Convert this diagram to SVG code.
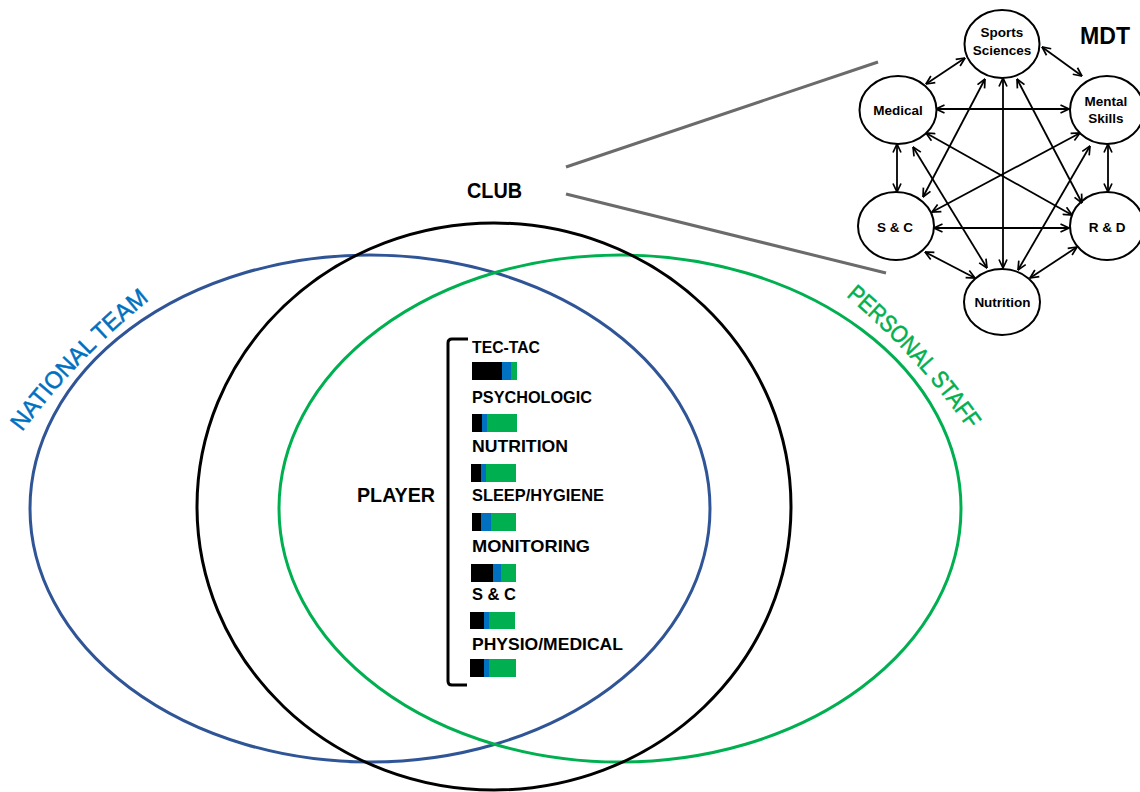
<svg xmlns="http://www.w3.org/2000/svg" width="1140" height="792" viewBox="0 0 1140 792">
<style>
.lbl{font-family:"Liberation Sans",Arial,sans-serif;font-weight:bold;fill:#000}
.node ellipse{fill:#fff;stroke:#000;stroke-width:2}
.node text{font-family:"Liberation Sans",Arial,sans-serif;font-weight:bold;font-size:13.5px;fill:#000;text-anchor:middle}
.conn line{stroke:#000;stroke-width:1.8;marker-start:url(#ah);marker-end:url(#ah)}
.bk{fill:#000}.bl{fill:#0070C0}.gr{fill:#00B050}
.item{font-family:"Liberation Sans",Arial,sans-serif;font-weight:bold;font-size:16.5px;fill:#000}
.arc{font-family:"Liberation Sans",Arial,sans-serif;font-size:24px;stroke-width:0.5px}
</style>
<defs>
<marker id="ah" viewBox="0 0 10 10" refX="9.5" refY="5" markerWidth="10" markerHeight="10" markerUnits="userSpaceOnUse" orient="auto-start-reverse">
<path d="M1,1 L9.5,5 L1,9" fill="none" stroke="#000" stroke-width="1.7"/>
</marker>
<path id="ntPath" d="M 22 432 Q 78.4 356.6 152 298"/>
<path id="psPath" d="M 846 296 Q 917 356 970 432"/>
</defs>
<rect width="1140" height="792" fill="#fff"/>

<g id="national-team">
<ellipse cx="370" cy="508.5" rx="340" ry="253.5" fill="none" stroke="#2F5597" stroke-width="3"/>
<text class="arc" fill="#0070C0" stroke="#0070C0"><textPath href="#ntPath" textLength="184" lengthAdjust="spacingAndGlyphs">NATIONAL TEAM</textPath></text>
</g>
<g id="personal-staff">
<ellipse cx="620" cy="508.5" rx="341" ry="253.5" fill="none" stroke="#00B050" stroke-width="3"/>
<text class="arc" fill="#00B050" stroke="#00B050"><textPath href="#psPath" textLength="182" lengthAdjust="spacingAndGlyphs">PERSONAL STAFF</textPath></text>
</g>
<g id="club">
<ellipse cx="494" cy="506.5" rx="297" ry="283.5" fill="none" stroke="#000" stroke-width="3"/>
<text class="lbl" x="494.5" y="198" font-size="22" text-anchor="middle" textLength="55" lengthAdjust="spacingAndGlyphs">CLUB</text>
</g>
<g id="zoom-lines" stroke="#6b6b6b" stroke-width="3">
<line x1="566" y1="167" x2="878" y2="62"/>
<line x1="566" y1="194" x2="886" y2="273"/>
</g>

<g id="player">
<text class="lbl" x="435" y="502" font-size="20" text-anchor="end" textLength="78" lengthAdjust="spacingAndGlyphs">PLAYER</text>
<path d="M 468 339 L 452 339 Q 448 339 448 343 L 448 681 Q 448 685 452 685 L 467 685" fill="none" stroke="#000" stroke-width="3"/>
</g>

<g id="items">
<text class="item" x="472" y="353" textLength="68" lengthAdjust="spacingAndGlyphs">TEC-TAC</text>
<rect class="bk" x="472" y="362" width="30" height="18"/><rect class="bl" x="502" y="362" width="9" height="18"/><rect class="gr" x="511" y="362" width="6" height="18"/>
<text class="item" x="472" y="403" textLength="120" lengthAdjust="spacingAndGlyphs">PSYCHOLOGIC</text>
<rect class="bk" x="472" y="414" width="10" height="18"/><rect class="bl" x="482" y="414" width="5" height="18"/><rect class="gr" x="487" y="414" width="30" height="18"/>
<text class="item" x="472" y="452" textLength="96" lengthAdjust="spacingAndGlyphs">NUTRITION</text>
<rect class="bk" x="471" y="464" width="10" height="18"/><rect class="bl" x="481" y="464" width="5" height="18"/><rect class="gr" x="486" y="464" width="30" height="18"/>
<text class="item" x="472" y="501" textLength="132" lengthAdjust="spacingAndGlyphs">SLEEP/HYGIENE</text>
<rect class="bk" x="472" y="513" width="9" height="18"/><rect class="bl" x="481" y="513" width="10" height="18"/><rect class="gr" x="491" y="513" width="25" height="18"/>
<text class="item" x="472" y="552" textLength="118" lengthAdjust="spacingAndGlyphs">MONITORING</text>
<rect class="bk" x="471" y="564" width="22" height="18"/><rect class="bl" x="493" y="564" width="8" height="18"/><rect class="gr" x="501" y="564" width="15" height="18"/>
<text class="item" x="472" y="600" textLength="44" lengthAdjust="spacingAndGlyphs">S &amp; C</text>
<rect class="bk" x="470" y="612" width="14" height="17"/><rect class="bl" x="484" y="612" width="5" height="17"/><rect class="gr" x="489" y="612" width="26" height="17"/>
<text class="item" x="472" y="650" textLength="151" lengthAdjust="spacingAndGlyphs">PHYSIO/MEDICAL</text>
<rect class="bk" x="470" y="659" width="14" height="18"/><rect class="bl" x="484" y="659" width="5" height="18"/><rect class="gr" x="489" y="659" width="27" height="18"/>
</g>

<g id="mdt-title"><text class="lbl" x="1105" y="44" font-size="23" text-anchor="middle" textLength="50" lengthAdjust="spacingAndGlyphs">MDT</text></g>

<g id="node-sports" class="node"><ellipse cx="1002" cy="44" rx="37.5" ry="34"/><text x="1002" y="37">Sports</text><text x="1002" y="55">Sciences</text></g>
<g id="node-medical" class="node"><ellipse cx="898" cy="110" rx="38.5" ry="34"/><text x="898" y="115">Medical</text></g>
<g id="node-mental" class="node"><ellipse cx="1107" cy="110" rx="37" ry="34"/><text x="1106" y="106">Mental</text><text x="1106" y="123">Skills</text></g>
<g id="node-sc" class="node"><ellipse cx="896" cy="226" rx="38" ry="34"/><text x="895" y="232">S &amp; C</text></g>
<g id="node-rd" class="node"><ellipse cx="1107" cy="226" rx="37" ry="34"/><text x="1107" y="232">R &amp; D</text></g>
<g id="node-nutrition" class="node"><ellipse cx="1002" cy="302" rx="38" ry="33"/><text x="1002.5" y="307">Nutrition</text></g>

<g id="connectors" class="conn">
<line x1="965" y1="58" x2="926" y2="84"/>
<line x1="1042" y1="47" x2="1082" y2="76"/>
<line x1="936" y1="109" x2="1069" y2="109"/>
<line x1="1003" y1="78" x2="1003" y2="268"/>
<line x1="985" y1="79" x2="923" y2="197"/>
<line x1="1017" y1="79" x2="1082" y2="203"/>
<line x1="897" y1="144" x2="897" y2="192"/>
<line x1="926" y1="133" x2="1072" y2="215"/>
<line x1="913" y1="147" x2="987" y2="268"/>
<line x1="1080" y1="133" x2="932" y2="212"/>
<line x1="1090" y1="146" x2="1018" y2="270"/>
<line x1="1108" y1="144" x2="1108" y2="192"/>
<line x1="934" y1="228" x2="1069" y2="228"/>
<line x1="925" y1="252" x2="975" y2="278"/>
<line x1="1077" y1="247" x2="1030" y2="278"/>
</g>
</svg>
